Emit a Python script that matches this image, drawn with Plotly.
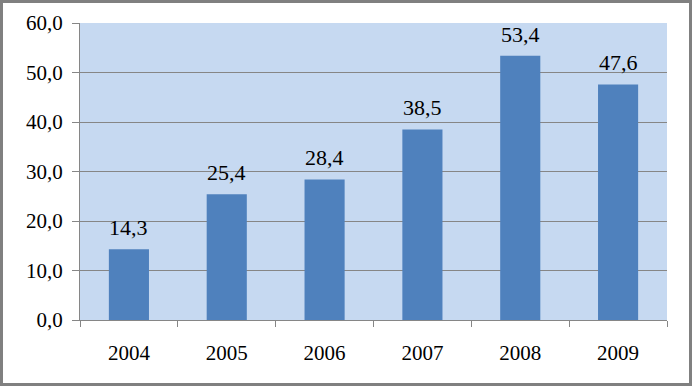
import plotly.graph_objects as go

years = ["2004", "2005", "2006", "2007", "2008", "2009"]
values = [14.3, 25.4, 28.4, 38.5, 53.4, 47.6]
y_ticks = [0, 10, 20, 30, 40, 50, 60]

W, H = 692, 386
L, R, T, B = 80, 25, 23, 66
pw, ph = W - L - R, H - T - B

FAMILY = ("'Liberation Serif', Tinos, 'Times New Roman', Times, 'Nimbus Roman', "
          "'Nimbus Roman No9 L', FreeSerif, 'DejaVu Serif', 'Noto Serif', serif")
font = dict(family=FAMILY, size=21, color="#000000")
label_font = dict(family=FAMILY, size=22, color="#000000")

fig = go.Figure()
fig.add_trace(go.Bar(x=years, y=values, marker=dict(color="#4F81BD", line=dict(width=0)),
                     hoverinfo="skip"))

# data labels: x given as category index to avoid numeric-string casting
for i, yv in enumerate(values):
    fig.add_annotation(x=i, y=yv, xref="x", yref="y",
                       text=f"{yv:.1f}".replace(".", ","), showarrow=False,
                       yanchor="bottom", yshift=7, font=label_font)

def px(xp):
    return (xp - L) / pw

def py(yp):
    return (H - B - yp) / ph

fig.add_shape(type="rect", xref="paper", yref="paper",
              x0=px(1.5), x1=px(690.5), y0=py(384.5), y1=py(1.5),
              line=dict(color="#808080", width=3), layer="below")

fig.update_layout(
    width=W, height=H,
    margin=dict(l=L, r=R, t=T, b=B, pad=0),
    paper_bgcolor="#FFFFFF",
    plot_bgcolor="#C6D9F1",
    bargap=0.59,
    showlegend=False,
    font=font,
)
fig.update_xaxes(type="category", categoryorder="array", categoryarray=years,
                 range=[-0.5, len(years) - 0.5],
                 showline=True, linecolor="#868686", linewidth=1,
                 ticks="outside", tickson="boundaries", ticklen=6, tickcolor="#868686",
                 showgrid=False, tickfont=font, tickangle=0, ticklabelstandoff=14,
                 fixedrange=True)
fig.update_yaxes(range=[0, 60], tickvals=y_ticks,
                 ticktext=[f"{t:.1f}".replace(".", ",") for t in y_ticks],
                 showline=True, linecolor="#868686", linewidth=1, ticks="outside", ticklen=7,
                 tickcolor="#868686", gridcolor="#868686", gridwidth=1, zeroline=False,
                 tickfont=font, ticklabelstandoff=5, fixedrange=True)

fig.write_html("out.html", config={"displayModeBar": False},
               post_script="document.body.style.margin='0';")
